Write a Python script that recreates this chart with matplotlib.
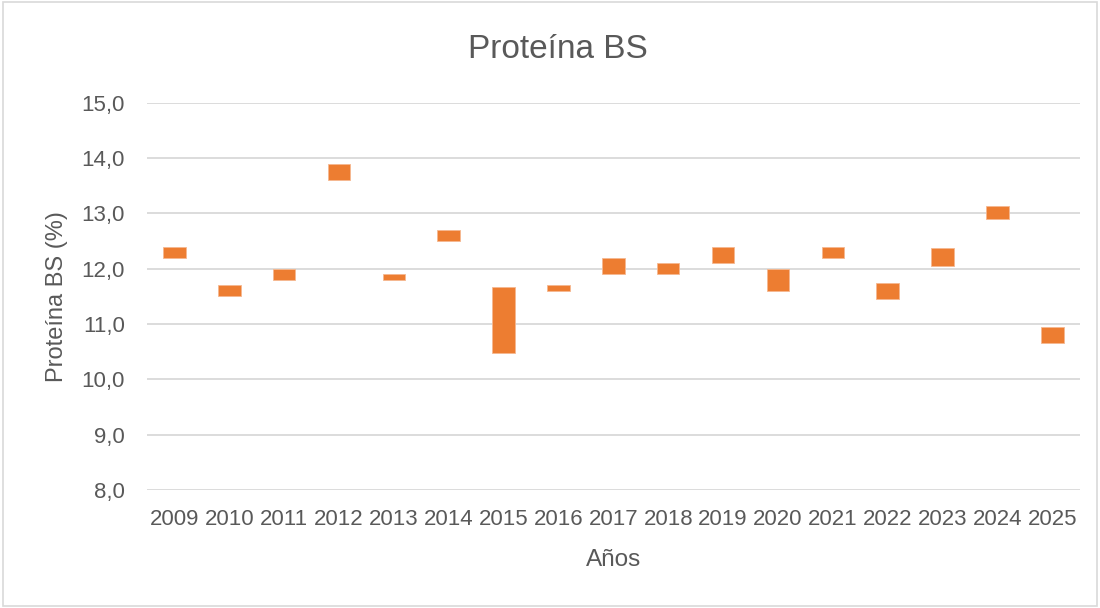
import matplotlib.pyplot as plt
from matplotlib.ticker import FuncFormatter
from matplotlib.patches import Rectangle

plt.rcParams["font.family"] = ["Liberation Sans", "DejaVu Sans"]

# -----------------------------------------------
# datos
# -----------------------------------------------
anios = ["2009", "2010", "2011", "2012", "2013", "2014", "2015", "2016", "2017",
         "2018", "2019", "2020", "2021", "2022", "2023", "2024", "2025"]
minimo = [12.2, 11.5, 11.8, 13.6, 11.8, 12.5, 10.48, 11.6, 11.9,
          11.9, 12.1, 11.6, 12.2, 11.46, 12.05, 12.9, 10.65]
maximo = [12.4, 11.7, 12.0, 13.9, 11.9, 12.7, 11.67, 11.7, 12.2,
          12.1, 12.4, 12.0, 12.4, 11.75, 12.37, 13.14, 10.95]

gris = "#595959"
naranja = "#ED7D31"

fig = plt.figure(figsize=(11, 6.08), dpi=100)
ax = fig.add_axes([0.1336, 0.194, 0.848, 0.637])

alturas = [hi - lo for lo, hi in zip(minimo, maximo)]
ax.bar(anios, alturas, bottom=minimo, width=0.41, color=naranja,
       edgecolor="#F6B890", linewidth=0.6, zorder=3)

ax.set_ylim(8, 15)
ax.set_xlim(-0.5, len(anios) - 0.5)
ax.set_yticks(range(8, 16))
ax.yaxis.set_major_formatter(FuncFormatter(lambda v, p: f"{v:.1f}".replace(".", ",")))
ax.grid(axis="y", color="#D9D9D9", linewidth=1.3, zorder=0)
for s in ax.spines.values():
    s.set_visible(False)
ax.tick_params(length=0, labelsize=16, colors=gris)
ax.tick_params(axis="x", pad=14)
ax.tick_params(axis="y", pad=16)

# textos
fig.text(0.507, 1 - 58 / 608, "Proteína BS", fontsize=24, color=gris,
         ha="center", va="baseline")
fig.text(0.5577, 1 - 566 / 608, "Años", fontsize=17.5, color=gris,
         ha="center", va="baseline")
fig.text(0.052, 0.513, "Proteína BS (%)", fontsize=17, color=gris,
         rotation=90, ha="center", va="center")

# borde del gráfico
fig.patches.append(Rectangle((0.003, 0.003), 0.994, 0.994, transform=fig.transFigure,
                             fill=False, edgecolor="#D9D9D9", linewidth=1.2))

plt.savefig("out.png")
